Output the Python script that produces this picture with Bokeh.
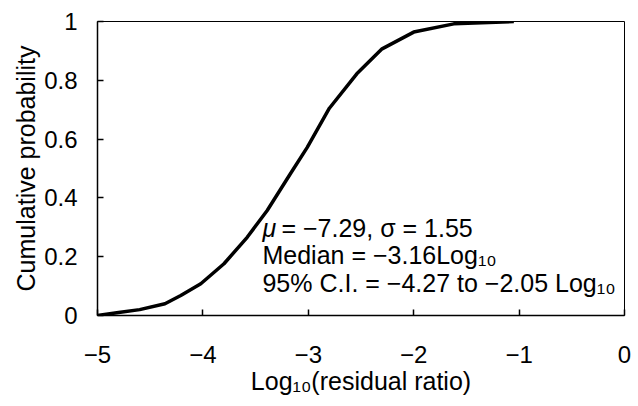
from bokeh.plotting import figure
from bokeh.models import Label, FixedTicker, Range1d
from bokeh.embed import file_html
from bokeh.resources import INLINE

# Data (cumulative distribution)
log_ratio = [-5.0, -4.8, -4.6, -4.36, -4.21, -4.02, -3.80, -3.58, -3.39, -3.17,
             -3.01, -2.80, -2.54, -2.30, -2.0, -1.62, -1.05]
cum_prob = [0.0, 0.01, 0.02, 0.04, 0.068, 0.108, 0.176, 0.266, 0.357, 0.482,
            0.572, 0.705, 0.822, 0.907, 0.964, 0.992, 1.0]

x_ticks = [-5, -4, -3, -2, -1, 0]
x_tick_labels = ["\u22125", "\u22124", "\u22123", "\u22122", "\u22121", "0"]
y_ticks = [0, 0.2, 0.4, 0.6, 0.8, 1]
y_tick_labels = ["0", "0.2", "0.4", "0.6", "0.8", "1"]

FONT = "Liberation Sans"

p = figure(width=638, height=406, output_backend="svg",
           toolbar_location=None, x_range=Range1d(-5, 0), y_range=Range1d(0, 1),
           min_border_left=97, min_border_right=14, min_border_top=21,
           min_border_bottom=91)
p.background_fill_color = "white"
p.border_fill_color = "white"
p.outline_line_color = "black"
p.outline_line_width = 1
p.grid.visible = False

p.line(log_ratio, cum_prob, line_color="black", line_width=3.5)

p.xaxis.ticker = FixedTicker(ticks=x_ticks)
p.xaxis.major_label_overrides = {t: l for t, l in zip(x_ticks, x_tick_labels)}
p.yaxis.ticker = FixedTicker(ticks=y_ticks)
p.yaxis.major_label_overrides = {t: l for t, l in zip(y_ticks, y_tick_labels)}

for ax in (p.xaxis[0], p.yaxis[0]):
    ax.major_tick_in = 6
    ax.major_tick_out = 0
    ax.minor_tick_in = 0
    ax.minor_tick_out = 0
    ax.axis_line_width = 1.5
    ax.axis_line_color = "black"
    ax.major_tick_line_color = "black"
    ax.major_tick_line_width = 1.5
    ax.major_label_text_font = FONT
    ax.major_label_text_font_size = "24px"
    ax.major_label_text_color = "black"
    ax.axis_label_text_font = FONT
    ax.axis_label_text_font_size = "25px"
    ax.axis_label_text_font_style = "normal"
    ax.axis_label_text_color = "black"

p.xaxis.major_label_standoff = 30
p.xaxis.axis_label = "Log\u2081\u2080(residual ratio)"
p.xaxis.axis_label_standoff = 1
p.yaxis.major_label_standoff = 20
p.yaxis.axis_label = "Cumulative probability"
p.yaxis.axis_label_standoff = 1

ann_x = -3.435
common = dict(text_font=FONT, text_font_size="25px", text_color="black",
              text_baseline="alphabetic")
p.add_layout(Label(x=ann_x, y=0.299, text="\u03bc", text_font_style="italic", **common))
p.add_layout(Label(x=ann_x, y=0.299, x_offset=19, text="= \u22127.29, \u03c3 = 1.55", **common))
p.add_layout(Label(x=ann_x, y=0.207, text="Median = \u22123.16Log\u2081\u2080", **common))
p.add_layout(Label(x=ann_x, y=0.110, text="95% C.I. = \u22124.27 to \u22122.05 Log\u2081\u2080", **common))

open("out.html", "w").write(file_html(p, INLINE))
